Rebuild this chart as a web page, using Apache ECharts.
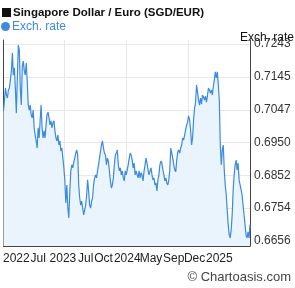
<!DOCTYPE html>
<html>
<head>
<meta charset="utf-8">
<script src="https://cdn.jsdelivr.net/npm/echarts@6/dist/echarts.min.js"></script>
<style>
  html, body { margin: 0; padding: 0; background: #fff; }
  #chart { width: 295px; height: 288px; }
</style>
</head>
<body>
<div id="chart"></div>
<script>
// SGD/EUR exchange rate
const rates = [
  0.7043, 0.7076, 0.7112, 0.7091, 0.7082, 0.7106, 0.7112, 0.7136, 0.7163, 0.7216,
  0.7151, 0.7172, 0.7112, 0.7037, 0.7142, 0.7240, 0.7225, 0.7112, 0.7061, 0.7178,
  0.7192, 0.7163, 0.7151, 0.7186, 0.7133, 0.7061, 0.7046, 0.7061, 0.7032, 0.7023,
  0.7046, 0.6993, 0.6972, 0.6954, 0.6933, 0.6993, 0.6963, 0.7014, 0.7061, 0.6993,
  0.6963, 0.6984, 0.6963, 0.7002, 0.7032, 0.7040, 0.7023, 0.7002, 0.7014, 0.6993,
  0.7008, 0.7014, 0.6984, 0.6963, 0.6954, 0.6972, 0.6942, 0.6954, 0.6924, 0.6933,
  0.6903, 0.6874, 0.6835, 0.6769, 0.6823, 0.6754, 0.6725, 0.6805, 0.6865, 0.6883,
  0.6874, 0.6891, 0.6903, 0.6918, 0.6927, 0.6912, 0.6823, 0.6784, 0.6763, 0.6775,
  0.6754, 0.6734, 0.6731, 0.6763, 0.6793, 0.6838, 0.6805, 0.6763, 0.6754, 0.6775,
  0.6784, 0.6823, 0.6844, 0.6853, 0.6844, 0.6865, 0.6883, 0.6903, 0.6924, 0.6942,
  0.6954, 0.6933, 0.6918, 0.6912, 0.6883, 0.6903, 0.6894, 0.6865, 0.6835, 0.6814,
  0.6823, 0.6844, 0.6883, 0.6912, 0.6918, 0.6927, 0.6883, 0.6865, 0.6874, 0.6853,
  0.6865, 0.6844, 0.6835, 0.6865, 0.6853, 0.6868, 0.6883, 0.6903, 0.6918, 0.6912,
  0.6897, 0.6874, 0.6888, 0.6853, 0.6865, 0.6853, 0.6844, 0.6865, 0.6844, 0.6859,
  0.6853, 0.6835, 0.6865, 0.6883, 0.6903, 0.6888, 0.6868, 0.6853, 0.6865, 0.6874,
  0.6853, 0.6838, 0.6844, 0.6823, 0.6829, 0.6805, 0.6838, 0.6853, 0.6883, 0.6894,
  0.6888, 0.6868, 0.6853, 0.6835, 0.6844, 0.6829, 0.6823, 0.6838, 0.6868, 0.6933,
  0.6918, 0.6903, 0.6883, 0.6868, 0.6862, 0.6897, 0.6921, 0.6927, 0.6918, 0.6933,
  0.6942, 0.6963, 0.6957, 0.6972, 0.6987, 0.7002, 0.7011, 0.7029, 0.7017, 0.6987,
  0.6942, 0.6963, 0.7017, 0.7052, 0.7067, 0.7121, 0.7100, 0.7076, 0.7061, 0.7082,
  0.7064, 0.7091, 0.7085, 0.7076, 0.7088, 0.7070, 0.7088, 0.7112, 0.7106, 0.7097,
  0.7106, 0.7091, 0.7118, 0.7136, 0.7160, 0.7142, 0.7160, 0.7121, 0.7076, 0.6942,
  0.6883, 0.6927, 0.6942, 0.6868, 0.6823, 0.6793, 0.6748, 0.6704, 0.6674, 0.6665,
  0.6689, 0.6734, 0.6808, 0.6853, 0.6883, 0.6897, 0.6868, 0.6888, 0.6838, 0.6823,
  0.6808, 0.6793, 0.6763, 0.6734, 0.6704, 0.6674, 0.6665, 0.6683, 0.6665, 0.6704
];
const xLabels = ['2022', 'Jul', '2023', 'Jul', 'Oct', '2024', 'May', 'Sep', 'Dec', '2025'];
const xLabelIndex = [13, 35, 60, 83, 101, 125, 149, 172, 193, 218];
const xGridIndex = [61, 124, 187];
const yTicks = [0.6656, 0.6754, 0.6852, 0.6950, 0.7047, 0.7145, 0.7243];
const yMin = 0.6641;
const yMax = 0.7255;

const categories = rates.map((v, i) => {
  const k = xLabelIndex.indexOf(i);
  return k >= 0 ? xLabels[k] : '';
});

const FONT = 'Liberation Sans, Arial, sans-serif';
const BLUE = '#3b8be0';

const chart = echarts.init(document.getElementById('chart'));
chart.setOption({
  animation: false,
  grid: { left: 1, right: 45, top: 40, bottom: 42 },
  graphic: [
    { type: 'rect', shape: { x: 2, y: 8, width: 9, height: 9 }, style: { fill: '#111' } },
    { type: 'text', x: 13, y: 13, style: { text: 'Singapore Dollar / Euro (SGD/EUR)', font: 'bold 11.5px ' + FONT, fill: '#111', verticalAlign: 'middle' } },
    { type: 'circle', shape: { cx: 5.5, cy: 26.5, r: 4.5 }, style: { fill: BLUE } },
    { type: 'text', x: 12, y: 27, style: { text: 'Exch. rate', font: '12px ' + FONT, fill: BLUE, verticalAlign: 'middle' } },
    { type: 'text', x: 240, y: 38, style: { text: 'Exch. rate', font: '12px ' + FONT, fill: '#111', verticalAlign: 'middle' } },
    { type: 'text', x: 291, y: 277, style: { text: '© Chartoasis.com', font: '13px ' + FONT, fill: '#444', align: 'right', verticalAlign: 'middle' } }
  ],
  xAxis: {
    type: 'category',
    boundaryGap: false,
    data: categories,
    axisLine: { lineStyle: { color: '#444' } },
    axisTick: { show: false },
    axisLabel: {
      interval: (i) => xLabelIndex.includes(i),
      margin: 7,
      fontSize: 12,
      fontFamily: FONT,
      color: '#222'
    },
    splitLine: {
      show: true,
      interval: (i) => xGridIndex.includes(i),
      lineStyle: { color: '#e8e8e8' }
    }
  },
  yAxis: [
    {
      type: 'value',
      position: 'right',
      min: yMin,
      max: yMax,
      axisLine: { show: true, lineStyle: { color: '#444' } },
      axisTick: { show: false, customValues: yTicks },
      axisLabel: {
        customValues: yTicks,
        formatter: (v) => v.toFixed(4),
        margin: 4,
        fontSize: 12,
        fontFamily: FONT,
        color: '#333'
      },
      splitLine: { show: true, lineStyle: { color: '#e8e8e8' } }
    },
    {
      type: 'value',
      position: 'left',
      min: yMin,
      max: yMax,
      axisLine: { show: true, lineStyle: { color: '#444' } },
      axisTick: { show: false },
      axisLabel: { show: false },
      splitLine: { show: false }
    }
  ],
  series: [{
    name: 'Exch. rate',
    type: 'line',
    data: rates,
    yAxisIndex: 0,
    symbol: 'none',
    lineStyle: { color: BLUE, width: 1.2 },
    areaStyle: { color: '#eaf4fd', opacity: 1 }
  }]
});
</script>
</body>
</html>
